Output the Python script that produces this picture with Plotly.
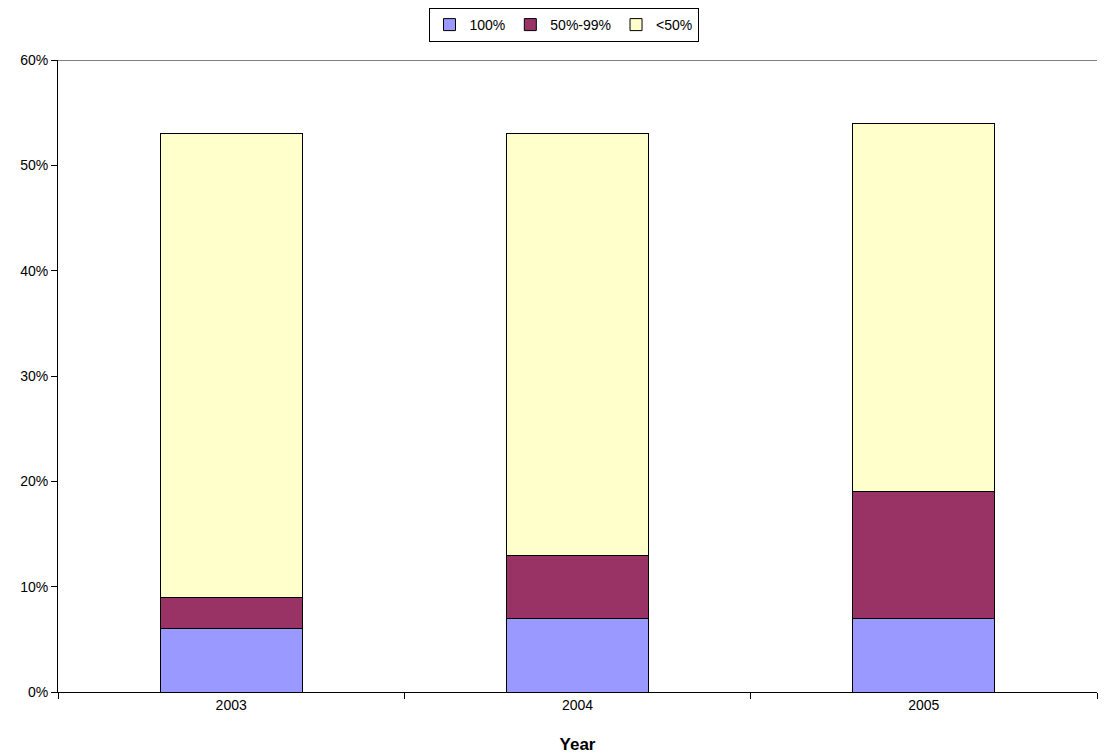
import plotly.graph_objects as go

# chart data
years = ["2003", "2004", "2005"]
full = [6, 7, 7]
half = [3, 6, 12]
low = [44, 40, 35]

fig = go.Figure()
fig.add_trace(go.Bar(x=years, y=full, name="100%", marker=dict(color="#9999ff", line=dict(color="black", width=1))))
fig.add_trace(go.Bar(x=years, y=half, name="50%-99%", marker=dict(color="#993366", line=dict(color="black", width=1))))
fig.add_trace(go.Bar(x=years, y=low, name="<50%", marker=dict(color="#ffffcc", line=dict(color="black", width=1))))

fig.update_layout(
    barmode="stack", bargap=0.59,
    width=1111, height=754,
    margin=dict(l=50, r=22, t=52, b=70, autoexpand=False),
    plot_bgcolor="white", paper_bgcolor="white",
    font=dict(family="Liberation Sans, Arial", size=14, color="black"),
    legend=dict(orientation="h", x=0.5, xanchor="center", xref="container",
                y=1.0, yanchor="top", yref="container",
                bordercolor="black", borderwidth=1, font=dict(size=14),
                traceorder="normal", itemwidth=30, tracegroupgap=0),
    xaxis=dict(title=dict(text="<b>Year</b>", standoff=26), showline=True, linecolor="black",
               ticks="outside", tickson="boundaries", ticklen=6, tickcolor="black", automargin=False),
    yaxis=dict(range=[0, 60], dtick=10, ticksuffix="%", showline=True, linecolor="black",
               ticks="outside", ticklen=6, tickcolor="black", showgrid=False, zeroline=False,
               automargin=False),
)
fig.add_shape(type="line", xref="paper", yref="y", x0=0, x1=1, y0=60, y1=60, line=dict(color="black", width=1))

fig.write_html("out.html")
